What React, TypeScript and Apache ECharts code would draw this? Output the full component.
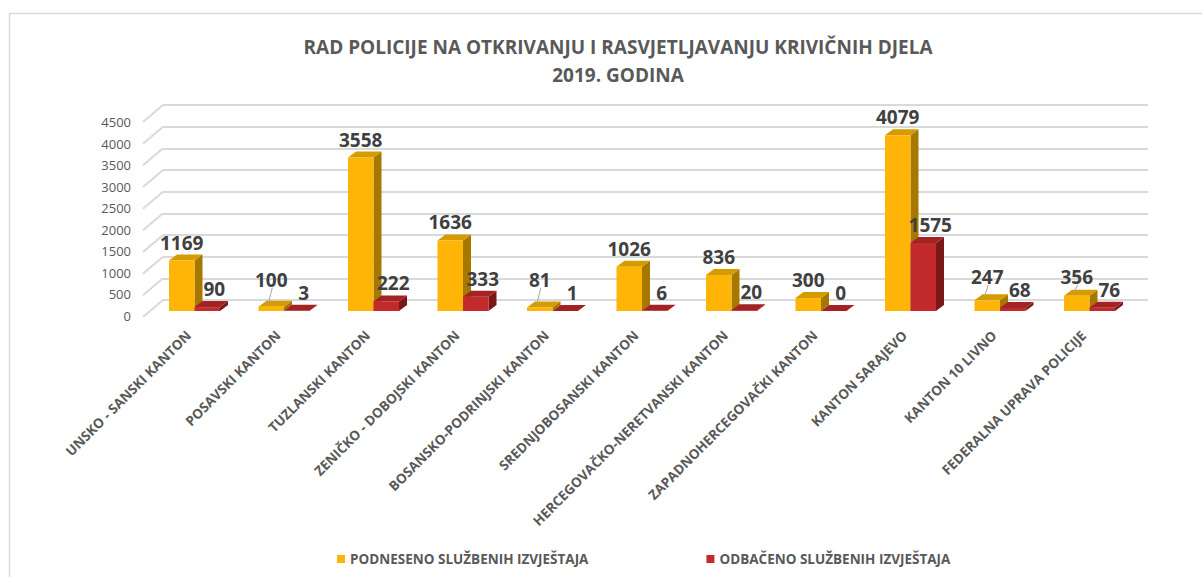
import React, { useEffect, useRef } from "react";
import * as echarts from "echarts";

const categories = [
  "UNSKO - SANSKI KANTON",
  "POSAVSKI KANTON",
  "TUZLANSKI KANTON",
  "ZENIČKO - DOBOJSKI KANTON",
  "BOSANSKO-PODRINJSKI KANTON",
  "SREDNJOBOSANSKI KANTON",
  "HERCEGOVAČKO-NERETVANSKI KANTON",
  "ZAPADNOHERCEGOVAČKI KANTON",
  "KANTON SARAJEVO",
  "KANTON 10 LIVNO",
  "FEDERALNA UPRAVA POLICIJE",
];
const podneseno = [1169, 100, 3558, 1636, 81, 1026, 836, 300, 4079, 247, 356];
const odbaceno = [90, 3, 222, 333, 1, 6, 20, 0, 1575, 68, 76];
const yTicks = [0, 500, 1000, 1500, 2000, 2500, 3000, 3500, 4000, 4500];
const seriesNames = ["PODNESENO SLUŽBENIH IZVJEŠTAJA", "ODBAČENO SLUŽBENIH IZVJEŠTAJA"];

const FONT = "'Open Sans', sans-serif";
const YELLOW = { front: "#FFB508", side: "#A67800", top: "#D49C00" };
const RED = { front: "#C22A2C", side: "#7A1818", top: "#A32224" };

function barRenderer(side: number, c: { front: string; side: string; top: string }, labelDx: number) {
  return (params: any, api: any) => {
    const i = api.value(0);
    const v = api.value(1);
    const top = api.coord([i, v]);
    const base = api.coord([i, 0]);
    const band = api.size([1, 0])[0];
    const w = band * 0.285;
    const x = side === 0 ? top[0] - w : top[0];
    const yT = top[1];
    const yB = base[1];
    const dx = 8;
    const dy = 6;
    const lx = x + w / 2 + labelDx;
    const defY = yT - 18;
    let ly = defY;
    const children: any[] = [
      {
        type: "polygon",
        shape: { points: [[x + w, yT], [x + w + dx, yT - dy], [x + w + dx, yB - dy], [x + w, yB]] },
        style: { fill: c.side },
      },
      {
        type: "polygon",
        shape: { points: [[x, yT], [x + dx, yT - dy], [x + w + dx, yT - dy], [x + w, yT]] },
        style: { fill: c.top },
      },
      {
        type: "rect",
        shape: { x: x, y: yT, width: w, height: Math.max(yB - yT, 0) },
        style: { fill: c.front },
      },
    ];
    if (side === 0) {
      const pairTop = api.coord([i, api.value(2)])[1];
      const pairLabelY = pairTop - 18;
      ly = Math.min(defY, pairLabelY - 13);
      if (defY - ly > 0.5) {
        children.push({
          type: "line",
          shape: { x1: lx + 1, y1: ly + 8, x2: lx - 3, y2: yT - 3 },
          style: { stroke: "#a6a6a6", lineWidth: 1 },
        });
      }
    }
    children.push({
      type: "text",
      style: {
        text: String(v),
        x: lx,
        y: ly,
        align: "center",
        verticalAlign: "middle",
        fontSize: 19,
        fontWeight: "bold",
        fontFamily: FONT,
        fill: "#404040",
      },
    });
    return { type: "group", children };
  };
}

export default function App() {
  const ref = useRef<HTMLDivElement>(null);
  useEffect(() => {
    if (!ref.current) return;
    const chart = echarts.init(ref.current, null, { renderer: "svg" });
    const option: any = {
      animation: false,
      backgroundColor: "#ffffff",
      title: {
        text: "RAD POLICIJE NA OTKRIVANJU I RASVJETLJAVANJU KRIVIČNIH DJELA\n2019. GODINA",
        left: 613,
        top: 28,
        textAlign: "center",
        textStyle: {
          fontFamily: FONT,
          fontSize: 19,
          fontWeight: "bold",
          color: "#595959",
          lineHeight: 28,
        },
      },
      graphic: [
        {
          type: "rect",
          shape: { x: 9.5, y: 13.5, width: 1400, height: 800 },
          style: { fill: "none", stroke: "#d9d9d9", lineWidth: 1.5 },
          silent: true,
          z: -10,
        },
      ],
      legend: {
        data: seriesNames,
        left: 332,
        top: 547,
        icon: "rect",
        itemWidth: 8,
        itemHeight: 8,
        itemGap: 118,
        textStyle: { fontFamily: FONT, fontSize: 13.5, fontWeight: "bold", color: "#595959" },
      },
      grid: [
        { left: 163, top: 105, width: 985, height: 195 },
        { left: 143, top: 122, width: 10, height: 194 },
        { left: 149.75, top: 117, width: 984.5, height: 194 },
        { left: 143.75, top: 117, width: 984.5, height: 194 },
      ],
      xAxis: [
        { gridIndex: 0, type: "value", min: 0, max: 1, show: false },
        { gridIndex: 1, type: "value", min: 0, max: 1, show: false },
        { gridIndex: 2, type: "category", data: categories, show: false },
        {
          gridIndex: 3,
          type: "category",
          data: categories,
          axisLine: { show: false },
          axisTick: { show: false },
          axisLabel: {
            interval: 0,
            rotate: 45,
            margin: 22,
            fontFamily: FONT,
            fontSize: 13.5,
            fontWeight: "bold",
            color: "#595959",
          },
        },
      ],
      yAxis: [
        {
          gridIndex: 0,
          type: "value",
          min: 0,
          max: 4500,
          interval: 500,
          axisLabel: { show: false },
          axisLine: { show: false },
          axisTick: { show: false },
          splitLine: { show: true, lineStyle: { color: "#d9d9d9", width: 2 } },
        },
        {
          gridIndex: 1,
          type: "value",
          min: 0,
          max: 4500,
          interval: 500,
          axisLine: { show: false },
          axisTick: { show: false },
          splitLine: { show: false },
          axisLabel: {
            margin: 12,
            fontFamily: FONT,
            fontSize: 13,
            color: "#595959",
            formatter: (v: number) => String(v),
          },
        },
        { gridIndex: 2, type: "value", min: 0, max: 4500, interval: 500, show: false },
        { gridIndex: 3, type: "value", min: 0, max: 4500, interval: 500, show: false },
      ],
      series: [
        {
          type: "custom",
          xAxisIndex: 0,
          yAxisIndex: 0,
          silent: true,
          data: yTicks.map((t) => [0, t]),
          renderItem: (params: any, api: any) => {
            const p = api.coord([0, api.value(1)]);
            return {
              type: "line",
              shape: { x1: p[0], y1: p[1], x2: p[0] - 20, y2: p[1] + 17 },
              style: { stroke: "#d9d9d9", lineWidth: 2 },
            };
          },
        },
        {
          type: "custom",
          name: seriesNames[0],
          xAxisIndex: 2,
          yAxisIndex: 2,
          itemStyle: { color: YELLOW.front },
          data: podneseno.map((v, i) => [i, v, odbaceno[i]]),
          renderItem: barRenderer(0, YELLOW, 0),
        },
        {
          type: "custom",
          name: seriesNames[1],
          xAxisIndex: 2,
          yAxisIndex: 2,
          itemStyle: { color: RED.front },
          data: odbaceno.map((v, i) => [i, v]),
          renderItem: barRenderer(1, RED, 7),
        },
      ],
    };
    chart.setOption(option);
    return () => chart.dispose();
  }, []);
  return (
    <div
      ref={ref}
      style={{ position: "absolute", left: 0, top: 0, width: 1202, height: 577 }}
    />
  );
}
